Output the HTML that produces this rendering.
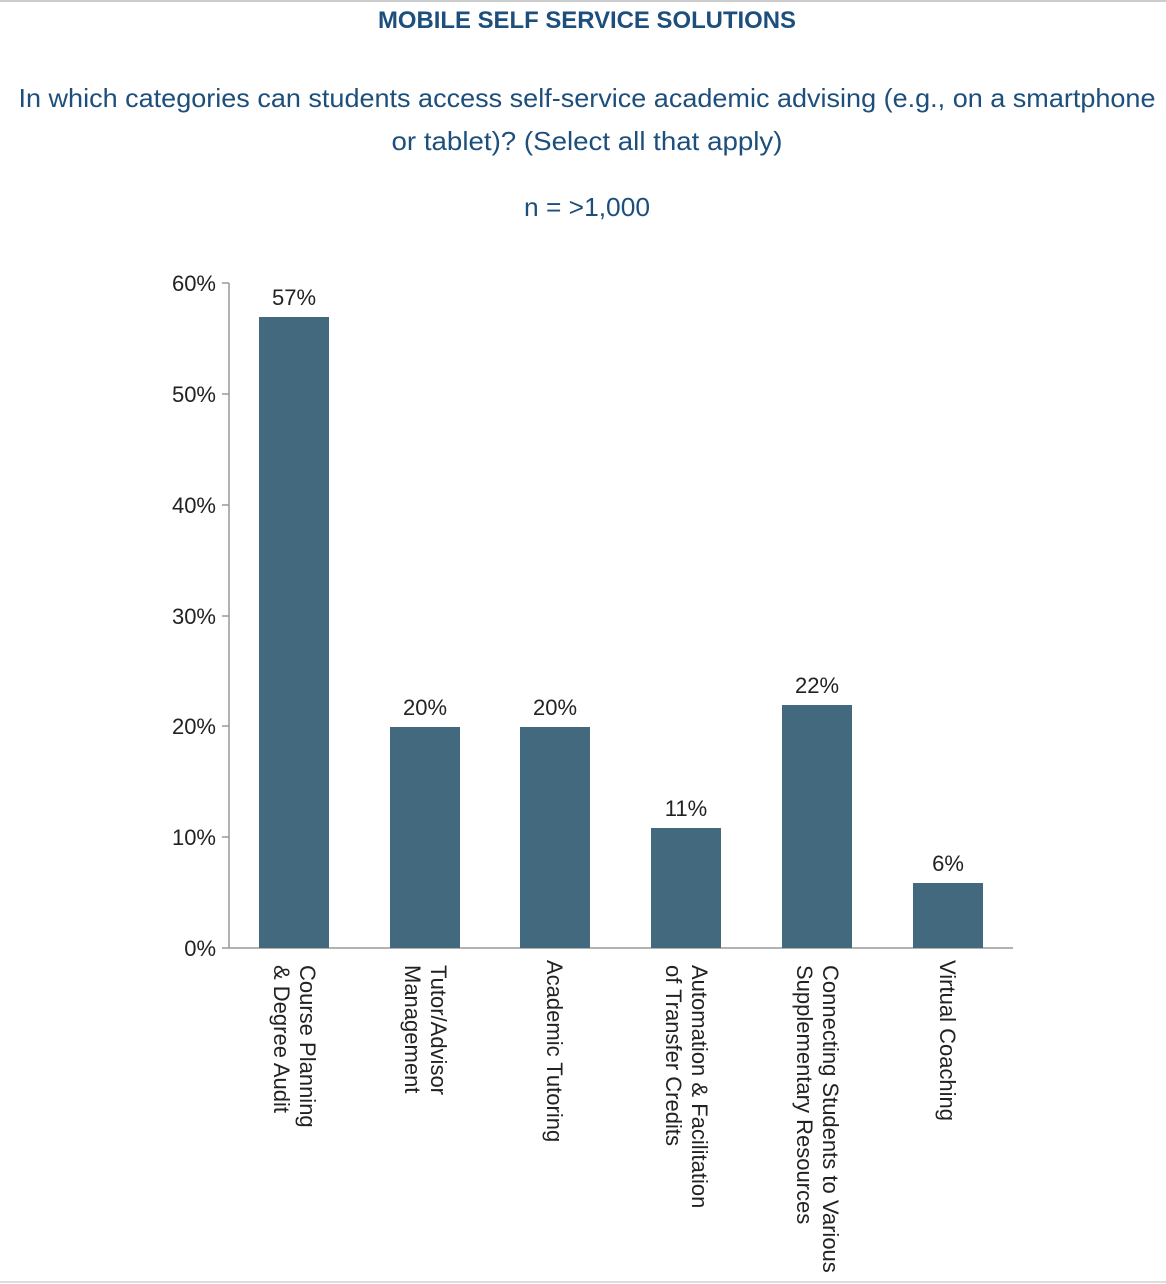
<!DOCTYPE html>
<html><head><style>
html,body{margin:0;padding:0;background:#fff;}
svg{display:block;}
</style></head><body>
<svg width="1166" height="1284" xmlns="http://www.w3.org/2000/svg">
<line x1="0" y1="1" x2="1166" y2="1" stroke="#ccc" stroke-width="2"/>
<line x1="0" y1="1282" x2="1166" y2="1282" stroke="#ddd" stroke-width="2"/>
<g font-family="Liberation Sans, sans-serif" fill="#1d4f7c" text-anchor="middle">
<text x="587" y="28" font-size="24" font-weight="bold" textLength="418" lengthAdjust="spacingAndGlyphs">MOBILE SELF SERVICE SOLUTIONS</text>
<text x="587" y="107" font-size="26" textLength="1137" lengthAdjust="spacingAndGlyphs">In which categories can students access self-service academic advising (e.g., on a smartphone</text>
<text x="587" y="150" font-size="26" textLength="391" lengthAdjust="spacingAndGlyphs">or tablet)? (Select all that apply)</text>
<text x="587" y="216" font-size="26" textLength="126" lengthAdjust="spacingAndGlyphs">n = &gt;1,000</text>
</g>
<g stroke="#999" stroke-width="1.5" fill="none">
<line x1="229" y1="283" x2="229" y2="948"/>
<line x1="229" y1="948" x2="1013" y2="948"/>
<line x1="222" y1="283" x2="229" y2="283"/>
<line x1="222" y1="394" x2="229" y2="394"/>
<line x1="222" y1="505" x2="229" y2="505"/>
<line x1="222" y1="616" x2="229" y2="616"/>
<line x1="222" y1="726" x2="229" y2="726"/>
<line x1="222" y1="837" x2="229" y2="837"/>
<line x1="222" y1="948" x2="229" y2="948"/>
</g>
<g font-family="Liberation Sans, sans-serif" font-size="22" fill="#222" text-anchor="end">
<text x="216" y="291">60%</text>
<text x="216" y="402">50%</text>
<text x="216" y="513">40%</text>
<text x="216" y="624">30%</text>
<text x="216" y="734">20%</text>
<text x="216" y="845">10%</text>
<text x="216" y="956">0%</text>
</g>
<g fill="#42697e">
<rect x="259" y="317" width="70" height="631"/>
<rect x="390" y="727" width="70" height="221"/>
<rect x="520" y="727" width="70" height="221"/>
<rect x="651" y="828" width="70" height="120"/>
<rect x="782" y="705" width="70" height="243"/>
<rect x="913" y="883" width="70" height="65"/>
</g>
<g font-family="Liberation Sans, sans-serif" font-size="22" fill="#222" text-anchor="middle">
<text x="294" y="305">57%</text>
<text x="425" y="715">20%</text>
<text x="555" y="715">20%</text>
<text x="686" y="816">11%</text>
<text x="817" y="693">22%</text>
<text x="948" y="871">6%</text>
</g>
<g font-family="Liberation Sans, sans-serif" font-size="22" fill="#222">
<text transform="translate(300,965) rotate(90)">Course Planning</text>
<text transform="translate(274,965) rotate(90)">&amp; Degree Audit</text>
<text transform="translate(431,965) rotate(90)">Tutor/Advisor</text>
<text transform="translate(405,965) rotate(90)">Management</text>
<text transform="translate(547,960) rotate(90)">Academic Tutoring</text>
<text transform="translate(692,965) rotate(90)">Automation &amp; Facilitation</text>
<text transform="translate(666,965) rotate(90)">of Transfer Credits</text>
<text transform="translate(823,965) rotate(90)">Connecting Students to Various</text>
<text transform="translate(797,965) rotate(90)">Supplementary Resources</text>
<text transform="translate(940,960) rotate(90)">Virtual Coaching</text>
</g>
</svg>
</body></html>
